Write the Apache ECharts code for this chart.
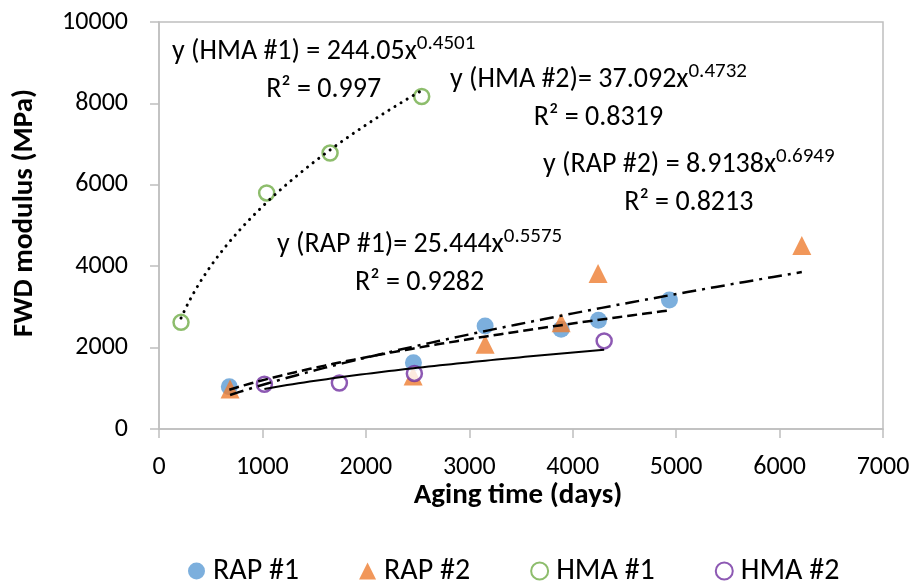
<!DOCTYPE html>
<html><head><meta charset="utf-8">
<script src="https://cdn.jsdelivr.net/npm/echarts@6/dist/echarts.min.js"></script>
<style>html,body{margin:0;padding:0;background:#fff}#c{width:916px;height:585px}</style>
</head><body><div id="c"></div>
<script>
// ---- data ----
const rap1X = [680, 2460, 3153, 3888, 4249, 4935];
const rap1Y = [1040, 1630, 2530, 2450, 2670, 3170];
const rap2X = [687, 2457, 3153, 3888, 4245, 6215];
const rap2Y = [980, 1300, 2080, 2610, 3820, 4510];
const hma1X = [213, 1041, 1654, 2540];
const hma1Y = [2620, 5800, 6780, 8170];
const hma2X = [1019, 1744, 2469, 4304];
const hma2Y = [1100, 1130, 1365, 2165];
// trend line power fits  y = a * x^b (as printed on the chart)
const rap1Fit = [25.444, 0.5575];
const rap2Fit = [8.9138, 0.6949];
const hma1Fit = [244.05, 0.4501];
const hma2Fit = [37.092, 0.4732];
const rapR2 = ['0.9282', '0.8213'];
const hmaR2 = ['0.997', '0.8319'];
const seriesNames = ['RAP #1', 'RAP #2', 'HMA #1', 'HMA #2'];
const xTicks = [0, 1000, 2000, 3000, 4000, 5000, 6000, 7000];
const yTicks = [0, 2000, 4000, 6000, 8000, 10000];
const xTitle = 'Aging time (days)';
const yTitle = 'FWD modulus (MPa)';

const FONT = 'Carlito, Calibri, Lato, "Open Sans", sans-serif';
function pairs(xs, ys){ return xs.map((x,i)=>[x, ys[i]]); }
function trend(fit, xs){
  const x0 = Math.min(...xs), x1 = Math.max(...xs), n = 60, out = [];
  for (let i=0;i<=n;i++){ const x = x0 + (x1-x0)*i/n; out.push([x, fit[0]*Math.pow(x, fit[1])]); }
  return out;
}
const chart = echarts.init(document.getElementById('c'), null, {renderer:'canvas'});
const axisGray = '#bfbfbf';
function eq(label, fit, r2, left, top){
  return {
    type:'text', left:left, top:top, z:100,
    style:{
      text:'{a|' + label + fit[0] + 'x}{s|' + fit[1] + '}\n{r|R² = ' + r2 + '}',
      rich:{
        a:{fontSize:28, fontFamily:FONT, fill:'#000', lineHeight:38},
        s:{fontSize:21, fontFamily:FONT, fill:'#000', verticalAlign:'top', lineHeight:38},
        r:{fontSize:28, fontFamily:FONT, fill:'#000', lineHeight:38, align:'center'}
      }
    }
  };
}
const option = {
  backgroundColor:'#fff',
  animation:false,
  grid:{left:159, right:33, top:22, bottom:156, show:true, borderColor:axisGray, borderWidth:1.5, containLabel:false},
  xAxis:{
    type:'value', min:xTicks[0], max:xTicks[xTicks.length-1], interval:1000,
    axisLine:{show:true, lineStyle:{color:axisGray, width:1.5}},
    axisTick:{show:true, inside:false, length:9, lineStyle:{color:axisGray, width:1.5}},
    splitLine:{show:false},
    axisLabel:{fontSize:26, fontFamily:FONT, color:'#000', margin:25, formatter:v=>String(v)}
  },
  yAxis:{
    type:'value', min:yTicks[0], max:yTicks[yTicks.length-1], interval:2000,
    axisLine:{show:true, lineStyle:{color:axisGray, width:1.5}},
    axisTick:{show:true, inside:false, length:9, lineStyle:{color:axisGray, width:1.5}},
    splitLine:{show:false},
    axisLabel:{fontSize:26, fontFamily:FONT, color:'#000', margin:31, formatter:v=>String(v)}
  },
  legend:{
    data:seriesNames, top:551, left:183, itemGap:60, itemWidth:17, itemHeight:17,
    textStyle:{fontSize:30, fontFamily:FONT, color:'#000', padding:[0,0,0,3]}
  },
  graphic:[
    {type:'text', x:25, y:213, rotation:Math.PI/2, z:100,
     style:{text:yTitle, fontSize:29, fontWeight:'bold', fontFamily:FONT, fill:'#000', align:'center', verticalAlign:'middle'}},
    {type:'text', x:518, y:496, z:100,
     style:{text:xTitle, fontSize:29, fontWeight:'bold', fontFamily:FONT, fill:'#000', align:'center', verticalAlign:'middle'}},
    eq('y (HMA #1) = ', hma1Fit, hmaR2[0], 172, 33),
    eq('y (HMA #2)= ', hma2Fit, hmaR2[1], 450, 61),
    eq('y (RAP #2) = ', rap2Fit, rapR2[1], 543, 146),
    eq('y (RAP #1)= ', rap1Fit, rapR2[0], 277, 226)
  ],
  series:[
    {name:seriesNames[0], type:'scatter', symbol:'circle', symbolSize:17, z:2,
     itemStyle:{color:'#5b9bd5'}, data:pairs(rap1X, rap1Y)},
    {name:seriesNames[1], type:'scatter', symbol:'triangle', symbolSize:19, z:2,
     itemStyle:{color:'#ed7d31'}, data:pairs(rap2X, rap2Y)},
    {name:seriesNames[2], type:'scatter', symbol:'circle', symbolSize:15, z:2,
     itemStyle:{color:'#fff', borderColor:'#70ad47', borderWidth:2.5}, data:pairs(hma1X, hma1Y)},
    {name:seriesNames[3], type:'scatter', symbol:'circle', symbolSize:15, z:2,
     itemStyle:{color:'#fff', borderColor:'#7030a0', borderWidth:2.5}, data:pairs(hma2X, hma2Y)},
    {name:'RAP #1 fit', type:'line', showSymbol:false, symbol:'none', z:5, silent:true,
     lineStyle:{color:'#000', width:2.5, type:[10,5]}, data:trend(rap1Fit, rap1X)},
    {name:'RAP #2 fit', type:'line', showSymbol:false, symbol:'none', z:5, silent:true,
     lineStyle:{color:'#000', width:2.5, type:[14,6,3,6]}, data:trend(rap2Fit, rap2X)},
    {name:'HMA #1 fit', type:'line', showSymbol:false, symbol:'none', z:5, silent:true,
     lineStyle:{color:'#000', width:3, type:[0.1,7], cap:'round'}, data:trend(hma1Fit, hma1X)},
    {name:'HMA #2 fit', type:'line', showSymbol:false, symbol:'none', z:5, silent:true,
     lineStyle:{color:'#000', width:2, type:'solid'}, data:trend(hma2Fit, hma2X)}
  ]
};
chart.setOption(option);
</script></body></html>
